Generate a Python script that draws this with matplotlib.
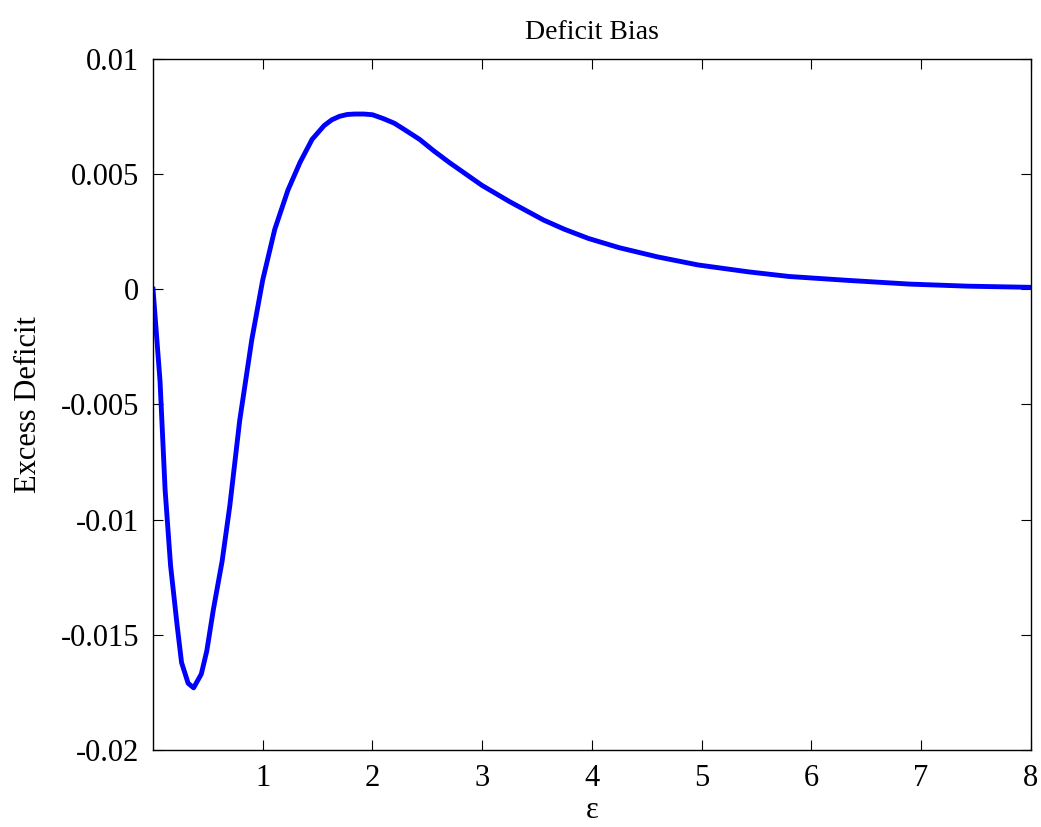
import matplotlib.pyplot as plt

# values
eps = [0.0, 0.064, 0.11, 0.16, 0.22, 0.26, 0.32, 0.37, 0.44, 0.49, 0.55, 0.63,
       0.70, 0.79, 0.90, 1.0, 1.11, 1.23, 1.34, 1.45, 1.56, 1.63, 1.70, 1.77,
       1.84, 1.92, 2.0, 2.1, 2.2, 2.3, 2.43, 2.56, 2.7, 2.85, 3.0, 3.25, 3.56,
       3.75, 3.97, 4.25, 4.6, 4.97, 5.2, 5.43, 5.8, 6.34, 6.9, 7.43, 8.0]
deficit = [0.0, -0.0040, -0.0087, -0.0120, -0.0146, -0.0162, -0.0171, -0.0173,
           -0.0167, -0.0157, -0.0139, -0.0118, -0.0094, -0.0057, -0.0022,
           0.0004, 0.0026, 0.0043, 0.0055, 0.0065, 0.0071, 0.00735, 0.0075,
           0.00758, 0.0076, 0.0076, 0.00757, 0.0074, 0.0072, 0.0069, 0.0065,
           0.0060, 0.0055, 0.0050, 0.0045, 0.0038, 0.0030, 0.0026, 0.0022,
           0.0018, 0.0014, 0.00105, 0.0009, 0.00075, 0.00055, 0.00038,
           0.00022, 0.00013, 0.00008]

xticks = [1, 2, 3, 4, 5, 6, 7, 8]
yticks = [-0.02, -0.015, -0.01, -0.005, 0, 0.005, 0.01]
ytick_labels = ['-0.02', '-0.015', '-0.01', '-0.005', '0', '0.005', '0.01']

plt.rcParams['font.family'] = ['Liberation Serif', 'DejaVu Serif']

fig = plt.figure(figsize=(10.41, 8.27), dpi=100)
ax = fig.add_axes([0.147, 0.093, 0.843, 0.836])

ax.plot(eps, deficit, color='#0000ff', linewidth=3.5, solid_joinstyle='round')

ax.set_xlim(0, 8)
ax.set_ylim(-0.02, 0.01)
ax.set_xticks(xticks)
ax.set_xticklabels([str(t) for t in xticks])
ax.set_yticks(yticks)
ax.set_yticklabels(ytick_labels)

ax.tick_params(direction='in', length=7, width=0.8, top=True, right=True,
               labelsize=22, pad=10)
for s in ax.spines.values():
    s.set_linewidth(1.0)

ax.set_title('Deficit Bias', fontsize=20, pad=14)
ax.set_xlabel('ε', fontsize=22, labelpad=2)
ax.set_ylabel('Excess Deficit', fontsize=22, labelpad=13)

fig.savefig('out.png', dpi=100)
